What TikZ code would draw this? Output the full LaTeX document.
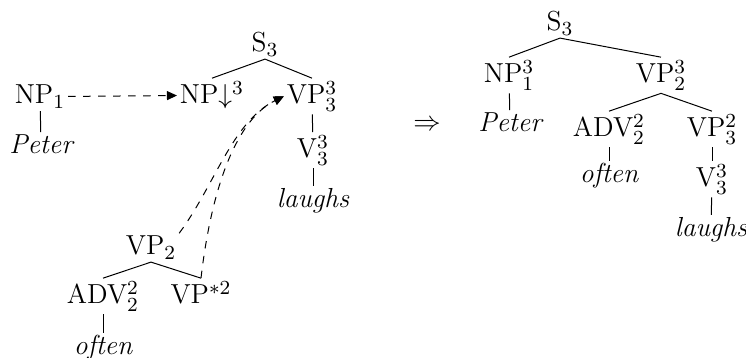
\documentclass[tikz,border=0pt]{standalone}
\usepackage{amsmath,amssymb}
\usepackage{tikz}
\usetikzlibrary{arrows.meta}

\begin{document}
\begin{tikzpicture}[x=0.4pt, y=-0.4pt, every node/.style={font=\fontsize{11}{13}\selectfont, inner sep=1pt, anchor=base}, word/.style={font=\fontsize{11}{13}\selectfont\itshape}, branch/.style={line width=0.4pt}, link/.style={dashed, -{Triangle[length=4pt, width=3.6pt]}}]
\useasboundingbox (0,0) rectangle (746,358);
% initial trees
\node (np1) at (40,104) {NP$_1$};
\node[word] (peterL) at (41,154) {Peter};
\node (sL) at (265,52) {S$_3$};
\node (npsub) at (212,104) {NP$\downarrow^3$};
\node (vpL) at (312,104) {VP$^3_3$};
\node (vL) at (313,158) {V$^3_3$};
\node[word] (laughsL) at (313,208) {laughs};
% auxiliary tree
\node (vp2) at (151,255) {VP$_2$};
\node (advL) at (103,304) {ADV$^2_2$};
\node (vpfoot) at (201,304) {VP$^{*2}$};
\node[word] (oftenL) at (103,355) {often};
\node (res) at (427,131) {$\Rightarrow$};
% derived tree
\node (sR) at (560,31) {S$_3$};
\node (npR) at (509,83) {NP$^3_1$};
\node[word] (peterR) at (510,132) {Peter};
\node (vpR) at (661,83) {VP$^3_2$};
\node (advR) at (609,137) {ADV$^2_2$};
\node[word] (oftenR) at (609,183) {often};
\node (vpR3) at (712,137) {VP$^2_3$};
\node (vR) at (712,187) {V$^3_3$};
\node[word] (laughsR) at (711,237) {laughs};
\draw[branch] (np1) -- (peterL);
\draw[branch] (sL.south) -- (npsub.north);
\draw[branch] (sL.south) -- (vpL.north);
\draw[branch] (vpL) -- (vL);
\draw[branch] (vL) -- (laughsL);
\draw[branch] (vp2.south) -- (advL.north);
\draw[branch] (vp2.south) -- (vpfoot.north);
\draw[branch] (advL) -- (oftenL);
\draw[branch] (sR.south) -- (npR.north);
\draw[branch] (sR.south) -- (vpR.north);
\draw[branch] (npR) -- (peterR);
\draw[branch] (vpR.south) -- (advR.north);
\draw[branch] (vpR.south) -- (vpR3.north);
\draw[branch] (advR) -- (oftenR);
\draw[branch] (vpR3) -- (vR);
\draw[branch] (vR) -- (laughsR);
% substitution and adjunction
\draw[link] (np1) -- (npsub);
\draw[link] (vp2.north east) .. controls (215,185) and (232,122) .. (vpL.west);
\draw[link] (vpfoot.north) .. controls (210,200) and (232,122) .. (vpL.west);
\end{tikzpicture}
\end{document}
